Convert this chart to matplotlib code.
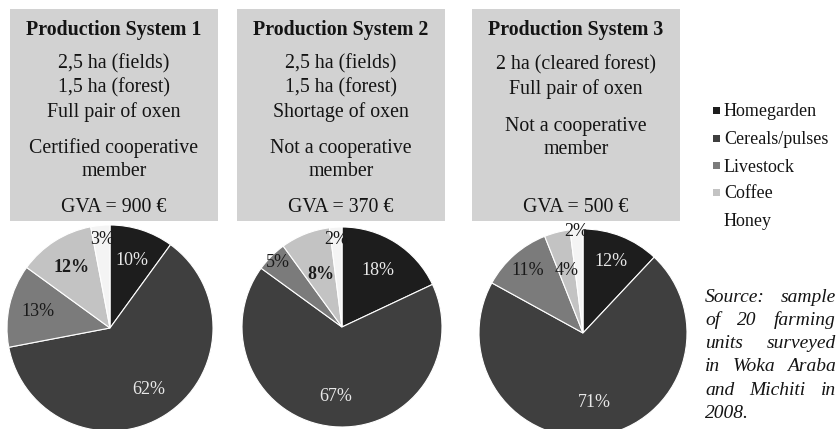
import matplotlib
matplotlib.use("Agg")
import matplotlib.pyplot as plt
from matplotlib.patches import Rectangle
import numpy as np

# --- data ---
categories = ["Homegarden", "Cereals/pulses", "Livestock", "Coffee", "Honey"]
ps1_share = [10, 62, 13, 12, 3]
ps2_share = [18, 67, 5, 8, 2]
ps3_share = [12, 71, 11, 4, 2]

titles = ["Production System 1", "Production System 2", "Production System 3"]
box_lines = [
    ["2,5 ha (fields)", "1,5 ha (forest)", "Full pair of oxen", "Certified cooperative", "member"],
    ["2,5 ha (fields)", "1,5 ha (forest)", "Shortage of oxen", "Not a cooperative", "member"],
    ["2 ha (cleared forest)", "Full pair of oxen", "Not a cooperative", "member"],
]
gva = ["GVA = 900 €", "GVA = 370 €", "GVA = 500 €"]
source_lines = ["Source: sample", "of 20 farming", "units surveyed",
                "in Woka Araba", "and Michiti in", "2008."]

# --- style ---
W, H = 837, 429
colors = ["#1d1d1d", "#3f3f3f", "#7b7b7b", "#c3c3c3", "#f4f4f4"]
txt_colors = ["#e8e8e8", "#e8e8e8", "#1a1a1a", "#1a1a1a", "#1a1a1a"]
serif = "Liberation Serif"
ink = "#141414"
box_x = [10, 237, 472]
box_w = 208
line_y = [[64, 88, 112, 148, 172], [64, 88, 112, 148, 172], [65, 89, 126, 149]]
pies = [(110, 328, 103), (342, 327, 100), (583, 333, 104)]
lab_dist = [[0.69, 0.71, 0.72, 0.70, 0.86],
            [0.67, 0.70, 0.91, 0.56, 0.88],
            [0.74, 0.68, 0.80, 0.62, 0.98]]
lab_bold = [[False, False, False, True, False],
            [False, False, False, True, False],
            [False, False, False, False, False]]

fig = plt.figure(figsize=(W / 100, H / 100), dpi=100)
bg = fig.add_axes([0, 0, 1, 1])
bg.set_xlim(0, W)
bg.set_ylim(H, 0)
bg.axis("off")

for i in range(3):
    bg.add_patch(Rectangle((box_x[i], 9), box_w, 212, facecolor="#d2d2d2",
                           edgecolor="none"))
    cx = box_x[i] + box_w / 2
    bg.text(cx, 30, titles[i], ha="center", va="center", fontsize=14.3,
            fontweight="bold", family=serif, color=ink)
    for ln, y in zip(box_lines[i], line_y[i]):
        bg.text(cx, y, ln, ha="center", va="center", fontsize=14.3,
                family=serif, color=ink)
    bg.text(cx, 207, gva[i], ha="center", va="center", fontsize=14.3,
            family=serif, color=ink)

for i, share in enumerate([ps1_share, ps2_share, ps3_share]):
    cx, cy, r = pies[i]
    ax = fig.add_axes([(cx - r) / W, 1 - (cy + r) / H, 2 * r / W, 2 * r / H])
    wedges, _ = ax.pie(share, colors=colors, startangle=90, counterclock=False,
                       wedgeprops=dict(edgecolor="white", linewidth=0.8))
    ax.set_xlim(-1, 1)
    ax.set_ylim(-1, 1)
    ax.set_aspect("equal")
    for j, w in enumerate(wedges):
        a = np.deg2rad((w.theta1 + w.theta2) / 2)
        d = lab_dist[i][j]
        ax.text(d * np.cos(a), d * np.sin(a), f"{share[j]}%", ha="center",
                va="center", fontsize=13, family=serif, color=txt_colors[j],
                fontweight="bold" if lab_bold[i][j] else "normal")

# legend
leg_y = [112, 140, 167, 194, 222]
for k, cat in enumerate(categories):
    if k < 4:
        bg.add_patch(Rectangle((713, leg_y[k] - 5), 7, 7, facecolor=colors[k],
                               edgecolor="none"))
    bg.text(724, leg_y[k], cat, ha="left", va="center", fontsize=13,
            family=serif, color=ink)

# justified source note
fig.canvas.draw()
rend = fig.canvas.get_renderer()
x0, x1 = 705, 836
for n, ln in enumerate(source_lines):
    y = 297 + n * 23.3
    words = ln.split()
    if len(words) == 1 or n == len(source_lines) - 1:
        bg.text(x0, y, ln, ha="left", va="center", fontsize=14, family=serif,
                style="italic", color=ink)
        continue
    ts = [bg.text(0, y, w, ha="left", va="center", fontsize=14, family=serif,
                  style="italic", color=ink) for w in words]
    widths = [t.get_window_extent(rend).width for t in ts]
    gap = (x1 - x0 - sum(widths)) / (len(words) - 1)
    x = x0
    for t, wd in zip(ts, widths):
        t.set_x(x)
        x += wd + gap

fig.savefig("out.png", dpi=100)
